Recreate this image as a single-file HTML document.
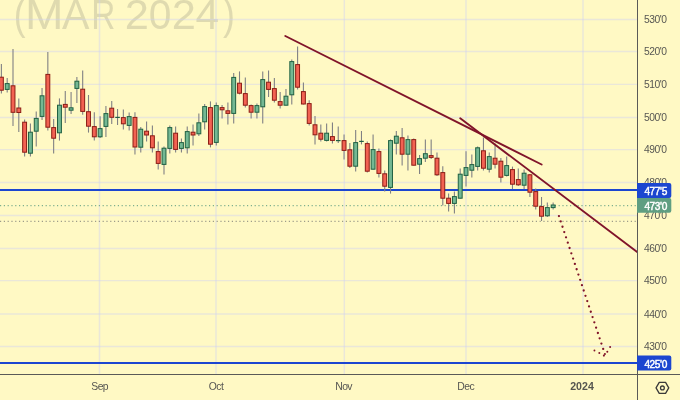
<!DOCTYPE html>
<html><head><meta charset="utf-8"><title>Chart</title>
<style>
html,body{margin:0;padding:0;background:#FFF9C4;}
body{width:680px;height:400px;overflow:hidden;font-family:"Liberation Sans",sans-serif;}
svg{display:block}
text{font-family:"Liberation Sans",sans-serif;}
.pl{font-size:10.3px;fill:#565652;letter-spacing:-0.5px}
.tl{font-size:10.4px;fill:#565652;letter-spacing:-0.55px}
.tlb{font-size:10.6px;fill:#55554f;font-weight:bold;letter-spacing:0px}
.bl{font-size:10.1px;fill:#ffffff;stroke:#ffffff;stroke-width:0.45px;letter-spacing:-0.38px}
</style></head><body>
<svg style="will-change:transform" width="680" height="400" viewBox="0 0 680 400">
<rect x="0" y="0" width="680" height="400" fill="#FFF9C4"/>
<g font-family="Liberation Sans, sans-serif" font-size="42.5" fill="#8a8a78" fill-opacity="0.27">
<text transform="translate(13.87 29.4) scale(0.837 1)">(</text>
<text transform="translate(24.91 29.4) scale(1.087 1)">M</text>
<text transform="translate(62.00 29.4) scale(0.969 1)">A</text>
<text transform="translate(91.33 29.4) scale(0.784 1)">R</text>
<text transform="translate(124.83 29.4) scale(1.023 1)">2</text>
<text transform="translate(148.78 29.4) scale(0.960 1)">0</text>
<text transform="translate(171.83 29.4) scale(1.023 1)">2</text>
<text transform="translate(195.55 29.4) scale(0.997 1)">4</text>
<text transform="translate(223.00 29.4) scale(0.840 1)">)</text>
</g>
<line x1="0" y1="19.5" x2="637.0" y2="19.5" stroke="rgba(205,208,245,0.42)" stroke-width="1.4"/>
<line x1="0" y1="51.5" x2="637.0" y2="51.5" stroke="rgba(205,208,245,0.42)" stroke-width="1.4"/>
<line x1="0" y1="84.4" x2="637.0" y2="84.4" stroke="rgba(205,208,245,0.42)" stroke-width="1.4"/>
<line x1="0" y1="117.5" x2="637.0" y2="117.5" stroke="rgba(205,208,245,0.42)" stroke-width="1.4"/>
<line x1="0" y1="149.6" x2="637.0" y2="149.6" stroke="rgba(205,208,245,0.42)" stroke-width="1.4"/>
<line x1="0" y1="182.5" x2="637.0" y2="182.5" stroke="rgba(205,208,245,0.42)" stroke-width="1.4"/>
<line x1="0" y1="215.5" x2="637.0" y2="215.5" stroke="rgba(205,208,245,0.42)" stroke-width="1.4"/>
<line x1="0" y1="248.5" x2="637.0" y2="248.5" stroke="rgba(205,208,245,0.42)" stroke-width="1.4"/>
<line x1="0" y1="280.6" x2="637.0" y2="280.6" stroke="rgba(205,208,245,0.42)" stroke-width="1.4"/>
<line x1="0" y1="314.0" x2="637.0" y2="314.0" stroke="rgba(205,208,245,0.42)" stroke-width="1.4"/>
<line x1="0" y1="346.5" x2="637.0" y2="346.5" stroke="rgba(205,208,245,0.42)" stroke-width="1.4"/>
<line x1="99.5" y1="0" x2="99.5" y2="374.0" stroke="rgba(205,208,245,0.42)" stroke-width="1.5"/>
<line x1="216" y1="0" x2="216" y2="374.0" stroke="rgba(205,208,245,0.42)" stroke-width="1.5"/>
<line x1="344.3" y1="0" x2="344.3" y2="374.0" stroke="rgba(205,208,245,0.42)" stroke-width="1.5"/>
<line x1="466" y1="0" x2="466" y2="374.0" stroke="rgba(205,208,245,0.42)" stroke-width="1.5"/>
<line x1="583" y1="0" x2="583" y2="374.0" stroke="rgba(205,208,245,0.42)" stroke-width="1.5"/>
<line x1="0" y1="205.7" x2="637.5" y2="205.7" stroke="#5F9E82" stroke-width="1" stroke-dasharray="1.2 2.6"/>
<line x1="0" y1="221.3" x2="637.5" y2="221.3" stroke="#85857c" stroke-width="1" stroke-dasharray="1.2 2.6"/>
<line x1="0" y1="190" x2="637.5" y2="190" stroke="#1C46D0" stroke-width="2"/>
<line x1="0" y1="363" x2="637.5" y2="363" stroke="#1C46D0" stroke-width="2"/>
<line x1="1.38" y1="64.0" x2="1.38" y2="93.6" stroke="#808084" stroke-width="1.1"/>
<rect x="-0.57" y="77.2" width="3.9" height="13.0" fill="#F26252" stroke="#8C1C14" stroke-width="1"/>
<line x1="7.19" y1="78.0" x2="7.19" y2="92.4" stroke="#808084" stroke-width="1.1"/>
<rect x="5.24" y="83.6" width="3.9" height="5.8" fill="#74B893" stroke="#1F6042" stroke-width="1"/>
<line x1="13.00" y1="49.0" x2="13.00" y2="126.0" stroke="#808084" stroke-width="1.1"/>
<rect x="11.05" y="85.8" width="3.9" height="26.5" fill="#F26252" stroke="#8C1C14" stroke-width="1"/>
<line x1="18.80" y1="98.4" x2="18.80" y2="132.0" stroke="#808084" stroke-width="1.1"/>
<rect x="16.85" y="108.0" width="3.9" height="4.5" fill="#F26252" stroke="#8C1C14" stroke-width="1"/>
<line x1="24.61" y1="119.6" x2="24.61" y2="156.4" stroke="#808084" stroke-width="1.1"/>
<rect x="22.66" y="122.2" width="3.9" height="30.0" fill="#F26252" stroke="#8C1C14" stroke-width="1"/>
<line x1="30.42" y1="123.6" x2="30.42" y2="156.4" stroke="#808084" stroke-width="1.1"/>
<rect x="28.47" y="132.2" width="3.9" height="21.0" fill="#74B893" stroke="#1F6042" stroke-width="1"/>
<line x1="36.23" y1="111.4" x2="36.23" y2="146.4" stroke="#808084" stroke-width="1.1"/>
<rect x="34.28" y="118.4" width="3.9" height="12.8" fill="#74B893" stroke="#1F6042" stroke-width="1"/>
<line x1="42.04" y1="88.0" x2="42.04" y2="120.0" stroke="#808084" stroke-width="1.1"/>
<rect x="40.09" y="95.8" width="3.9" height="20.6" fill="#74B893" stroke="#1F6042" stroke-width="1"/>
<line x1="47.84" y1="52.0" x2="47.84" y2="130.4" stroke="#808084" stroke-width="1.1"/>
<rect x="45.89" y="74.4" width="3.9" height="52.8" fill="#F26252" stroke="#8C1C14" stroke-width="1"/>
<line x1="53.65" y1="119.0" x2="53.65" y2="153.6" stroke="#808084" stroke-width="1.1"/>
<rect x="51.70" y="127.6" width="3.9" height="10.6" fill="#F26252" stroke="#8C1C14" stroke-width="1"/>
<line x1="59.46" y1="98.4" x2="59.46" y2="140.6" stroke="#808084" stroke-width="1.1"/>
<rect x="57.51" y="105.2" width="3.9" height="27.6" fill="#74B893" stroke="#1F6042" stroke-width="1"/>
<line x1="65.27" y1="91.0" x2="65.27" y2="123.0" stroke="#808084" stroke-width="1.1"/>
<rect x="63.32" y="104.4" width="3.9" height="2.8" fill="#F26252" stroke="#8C1C14" stroke-width="1"/>
<line x1="71.08" y1="92.0" x2="71.08" y2="114.0" stroke="#808084" stroke-width="1.1"/>
<rect x="69.13" y="107.8" width="3.9" height="2.4" fill="#74B893" stroke="#1F6042" stroke-width="1"/>
<line x1="76.88" y1="77.0" x2="76.88" y2="103.0" stroke="#808084" stroke-width="1.1"/>
<rect x="74.93" y="81.2" width="3.9" height="7.2" fill="#74B893" stroke="#1F6042" stroke-width="1"/>
<line x1="82.69" y1="70.4" x2="82.69" y2="114.8" stroke="#808084" stroke-width="1.1"/>
<rect x="80.74" y="89.2" width="3.9" height="22.2" fill="#F26252" stroke="#8C1C14" stroke-width="1"/>
<line x1="88.50" y1="95.0" x2="88.50" y2="132.6" stroke="#808084" stroke-width="1.1"/>
<rect x="86.55" y="111.7" width="3.9" height="14.5" fill="#F26252" stroke="#8C1C14" stroke-width="1"/>
<line x1="94.31" y1="112.2" x2="94.31" y2="140.6" stroke="#808084" stroke-width="1.1"/>
<rect x="92.36" y="126.6" width="3.9" height="10.2" fill="#F26252" stroke="#8C1C14" stroke-width="1"/>
<line x1="100.12" y1="116.2" x2="100.12" y2="138.0" stroke="#808084" stroke-width="1.1"/>
<rect x="98.17" y="128.6" width="3.9" height="8.2" fill="#74B893" stroke="#1F6042" stroke-width="1"/>
<line x1="105.92" y1="106.0" x2="105.92" y2="137.0" stroke="#808084" stroke-width="1.1"/>
<rect x="103.97" y="113.6" width="3.9" height="12.8" fill="#74B893" stroke="#1F6042" stroke-width="1"/>
<line x1="111.73" y1="101.0" x2="111.73" y2="124.0" stroke="#808084" stroke-width="1.1"/>
<rect x="109.78" y="108.2" width="3.9" height="9.1" fill="#F26252" stroke="#8C1C14" stroke-width="1"/>
<line x1="117.54" y1="109.0" x2="117.54" y2="125.0" stroke="#808084" stroke-width="1.1"/>
<line x1="115.24" y1="117.4" x2="119.84" y2="117.4" stroke="#1F6042" stroke-width="1.2"/>
<line x1="123.35" y1="109.6" x2="123.35" y2="129.6" stroke="#808084" stroke-width="1.1"/>
<rect x="121.40" y="117.6" width="3.9" height="6.2" fill="#F26252" stroke="#8C1C14" stroke-width="1"/>
<line x1="129.16" y1="112.4" x2="129.16" y2="130.4" stroke="#808084" stroke-width="1.1"/>
<rect x="127.21" y="116.6" width="3.9" height="8.8" fill="#74B893" stroke="#1F6042" stroke-width="1"/>
<line x1="134.96" y1="112.2" x2="134.96" y2="154.4" stroke="#808084" stroke-width="1.1"/>
<rect x="133.01" y="117.4" width="3.9" height="29.6" fill="#F26252" stroke="#8C1C14" stroke-width="1"/>
<line x1="140.77" y1="127.0" x2="140.77" y2="152.4" stroke="#808084" stroke-width="1.1"/>
<rect x="138.82" y="129.2" width="3.9" height="18.0" fill="#74B893" stroke="#1F6042" stroke-width="1"/>
<line x1="146.58" y1="121.6" x2="146.58" y2="141.6" stroke="#808084" stroke-width="1.1"/>
<rect x="144.63" y="131.2" width="3.9" height="3.8" fill="#F26252" stroke="#8C1C14" stroke-width="1"/>
<line x1="152.39" y1="125.6" x2="152.39" y2="152.4" stroke="#808084" stroke-width="1.1"/>
<rect x="150.44" y="135.8" width="3.9" height="12.0" fill="#F26252" stroke="#8C1C14" stroke-width="1"/>
<line x1="158.20" y1="141.4" x2="158.20" y2="169.6" stroke="#808084" stroke-width="1.1"/>
<rect x="156.25" y="151.6" width="3.9" height="11.8" fill="#F26252" stroke="#8C1C14" stroke-width="1"/>
<line x1="164.00" y1="146.6" x2="164.00" y2="174.4" stroke="#808084" stroke-width="1.1"/>
<rect x="162.05" y="148.2" width="3.9" height="16.2" fill="#74B893" stroke="#1F6042" stroke-width="1"/>
<line x1="169.81" y1="125.6" x2="169.81" y2="153.6" stroke="#808084" stroke-width="1.1"/>
<rect x="167.86" y="127.6" width="3.9" height="20.8" fill="#74B893" stroke="#1F6042" stroke-width="1"/>
<line x1="175.62" y1="126.4" x2="175.62" y2="152.4" stroke="#808084" stroke-width="1.1"/>
<rect x="173.67" y="133.2" width="3.9" height="16.2" fill="#F26252" stroke="#8C1C14" stroke-width="1"/>
<line x1="181.43" y1="138.4" x2="181.43" y2="152.4" stroke="#808084" stroke-width="1.1"/>
<rect x="179.48" y="142.6" width="3.9" height="5.8" fill="#74B893" stroke="#1F6042" stroke-width="1"/>
<line x1="187.24" y1="126.4" x2="187.24" y2="153.6" stroke="#808084" stroke-width="1.1"/>
<rect x="185.29" y="131.6" width="3.9" height="16.2" fill="#74B893" stroke="#1F6042" stroke-width="1"/>
<line x1="193.04" y1="124.4" x2="193.04" y2="145.4" stroke="#808084" stroke-width="1.1"/>
<rect x="191.09" y="132.2" width="3.9" height="2.8" fill="#F26252" stroke="#8C1C14" stroke-width="1"/>
<line x1="198.85" y1="113.4" x2="198.85" y2="136.0" stroke="#808084" stroke-width="1.1"/>
<rect x="196.90" y="122.8" width="3.9" height="11.0" fill="#74B893" stroke="#1F6042" stroke-width="1"/>
<line x1="204.66" y1="104.0" x2="204.66" y2="129.4" stroke="#808084" stroke-width="1.1"/>
<rect x="202.71" y="106.6" width="3.9" height="15.2" fill="#74B893" stroke="#1F6042" stroke-width="1"/>
<line x1="210.47" y1="101.4" x2="210.47" y2="147.4" stroke="#808084" stroke-width="1.1"/>
<rect x="208.52" y="107.6" width="3.9" height="36.6" fill="#F26252" stroke="#8C1C14" stroke-width="1"/>
<line x1="216.28" y1="102.4" x2="216.28" y2="145.6" stroke="#808084" stroke-width="1.1"/>
<rect x="214.33" y="105.6" width="3.9" height="36.8" fill="#74B893" stroke="#1F6042" stroke-width="1"/>
<line x1="222.08" y1="105.0" x2="222.08" y2="118.6" stroke="#808084" stroke-width="1.1"/>
<rect x="220.13" y="107.6" width="3.9" height="2.2" fill="#F26252" stroke="#8C1C14" stroke-width="1"/>
<line x1="227.89" y1="102.4" x2="227.89" y2="124.6" stroke="#808084" stroke-width="1.1"/>
<rect x="225.94" y="110.8" width="3.9" height="2.6" fill="#F26252" stroke="#8C1C14" stroke-width="1"/>
<line x1="233.70" y1="73.0" x2="233.70" y2="123.6" stroke="#808084" stroke-width="1.1"/>
<rect x="231.75" y="77.4" width="3.9" height="36.0" fill="#74B893" stroke="#1F6042" stroke-width="1"/>
<line x1="239.51" y1="71.4" x2="239.51" y2="94.4" stroke="#808084" stroke-width="1.1"/>
<rect x="237.56" y="83.2" width="3.9" height="10.0" fill="#F26252" stroke="#8C1C14" stroke-width="1"/>
<line x1="245.32" y1="77.4" x2="245.32" y2="107.6" stroke="#808084" stroke-width="1.1"/>
<rect x="243.37" y="93.6" width="3.9" height="11.6" fill="#F26252" stroke="#8C1C14" stroke-width="1"/>
<line x1="251.12" y1="104.4" x2="251.12" y2="118.4" stroke="#808084" stroke-width="1.1"/>
<rect x="249.17" y="105.6" width="3.9" height="6.6" fill="#F26252" stroke="#8C1C14" stroke-width="1"/>
<line x1="256.93" y1="103.6" x2="256.93" y2="118.4" stroke="#808084" stroke-width="1.1"/>
<rect x="254.98" y="105.6" width="3.9" height="6.6" fill="#74B893" stroke="#1F6042" stroke-width="1"/>
<line x1="262.74" y1="71.4" x2="262.74" y2="123.6" stroke="#808084" stroke-width="1.1"/>
<rect x="260.79" y="79.6" width="3.9" height="27.2" fill="#74B893" stroke="#1F6042" stroke-width="1"/>
<line x1="268.55" y1="70.4" x2="268.55" y2="97.0" stroke="#808084" stroke-width="1.1"/>
<rect x="266.60" y="82.2" width="3.9" height="7.2" fill="#F26252" stroke="#8C1C14" stroke-width="1"/>
<line x1="274.36" y1="78.0" x2="274.36" y2="102.6" stroke="#808084" stroke-width="1.1"/>
<rect x="272.41" y="88.6" width="3.9" height="11.6" fill="#F26252" stroke="#8C1C14" stroke-width="1"/>
<line x1="280.16" y1="92.0" x2="280.16" y2="108.4" stroke="#808084" stroke-width="1.1"/>
<rect x="278.21" y="101.6" width="3.9" height="3.6" fill="#F26252" stroke="#8C1C14" stroke-width="1"/>
<line x1="285.97" y1="89.0" x2="285.97" y2="105.4" stroke="#808084" stroke-width="1.1"/>
<rect x="284.02" y="96.2" width="3.9" height="9.0" fill="#74B893" stroke="#1F6042" stroke-width="1"/>
<line x1="291.78" y1="59.4" x2="291.78" y2="104.5" stroke="#808084" stroke-width="1.1"/>
<rect x="289.83" y="61.6" width="3.9" height="33.2" fill="#74B893" stroke="#1F6042" stroke-width="1"/>
<line x1="297.59" y1="46.4" x2="297.59" y2="89.4" stroke="#808084" stroke-width="1.1"/>
<rect x="295.64" y="64.6" width="3.9" height="22.6" fill="#F26252" stroke="#8C1C14" stroke-width="1"/>
<line x1="303.40" y1="82.6" x2="303.40" y2="104.6" stroke="#808084" stroke-width="1.1"/>
<rect x="301.45" y="91.6" width="3.9" height="12.4" fill="#F26252" stroke="#8C1C14" stroke-width="1"/>
<line x1="309.20" y1="100.2" x2="309.20" y2="125.6" stroke="#808084" stroke-width="1.1"/>
<rect x="307.25" y="103.6" width="3.9" height="19.8" fill="#F26252" stroke="#8C1C14" stroke-width="1"/>
<line x1="315.01" y1="116.0" x2="315.01" y2="144.4" stroke="#808084" stroke-width="1.1"/>
<rect x="313.06" y="124.8" width="3.9" height="10.0" fill="#F26252" stroke="#8C1C14" stroke-width="1"/>
<line x1="320.82" y1="124.4" x2="320.82" y2="141.6" stroke="#808084" stroke-width="1.1"/>
<rect x="318.87" y="133.2" width="3.9" height="6.0" fill="#F26252" stroke="#8C1C14" stroke-width="1"/>
<line x1="326.63" y1="123.6" x2="326.63" y2="141.6" stroke="#808084" stroke-width="1.1"/>
<rect x="324.68" y="133.2" width="3.9" height="7.2" fill="#74B893" stroke="#1F6042" stroke-width="1"/>
<line x1="332.44" y1="122.6" x2="332.44" y2="143.6" stroke="#808084" stroke-width="1.1"/>
<rect x="330.49" y="136.6" width="3.9" height="3.8" fill="#F26252" stroke="#8C1C14" stroke-width="1"/>
<line x1="338.24" y1="126.4" x2="338.24" y2="143.0" stroke="#808084" stroke-width="1.1"/>
<line x1="335.94" y1="140.6" x2="340.54" y2="140.6" stroke="#1F6042" stroke-width="1.2"/>
<line x1="344.05" y1="134.4" x2="344.05" y2="159.4" stroke="#808084" stroke-width="1.1"/>
<rect x="342.10" y="140.6" width="3.9" height="9.8" fill="#F26252" stroke="#8C1C14" stroke-width="1"/>
<line x1="349.86" y1="143.0" x2="349.86" y2="168.0" stroke="#808084" stroke-width="1.1"/>
<rect x="347.91" y="149.8" width="3.9" height="16.4" fill="#F26252" stroke="#8C1C14" stroke-width="1"/>
<line x1="355.67" y1="130.0" x2="355.67" y2="171.4" stroke="#808084" stroke-width="1.1"/>
<rect x="353.72" y="142.6" width="3.9" height="23.6" fill="#74B893" stroke="#1F6042" stroke-width="1"/>
<line x1="361.48" y1="131.0" x2="361.48" y2="144.4" stroke="#808084" stroke-width="1.1"/>
<line x1="359.18" y1="141.4" x2="363.78" y2="141.4" stroke="#1F6042" stroke-width="1.2"/>
<line x1="367.28" y1="141.4" x2="367.28" y2="172.4" stroke="#808084" stroke-width="1.1"/>
<rect x="365.33" y="143.6" width="3.9" height="27.6" fill="#F26252" stroke="#8C1C14" stroke-width="1"/>
<line x1="373.09" y1="134.6" x2="373.09" y2="169.4" stroke="#808084" stroke-width="1.1"/>
<rect x="371.14" y="149.6" width="3.9" height="19.6" fill="#74B893" stroke="#1F6042" stroke-width="1"/>
<line x1="378.90" y1="148.4" x2="378.90" y2="177.6" stroke="#808084" stroke-width="1.1"/>
<rect x="376.95" y="151.6" width="3.9" height="21.8" fill="#F26252" stroke="#8C1C14" stroke-width="1"/>
<line x1="384.71" y1="170.4" x2="384.71" y2="191.6" stroke="#808084" stroke-width="1.1"/>
<rect x="382.76" y="173.8" width="3.9" height="12.4" fill="#F26252" stroke="#8C1C14" stroke-width="1"/>
<line x1="390.52" y1="139.4" x2="390.52" y2="193.6" stroke="#808084" stroke-width="1.1"/>
<rect x="388.57" y="140.6" width="3.9" height="46.8" fill="#74B893" stroke="#1F6042" stroke-width="1"/>
<line x1="396.32" y1="131.0" x2="396.32" y2="154.4" stroke="#808084" stroke-width="1.1"/>
<rect x="394.37" y="136.2" width="3.9" height="7.0" fill="#74B893" stroke="#1F6042" stroke-width="1"/>
<line x1="402.13" y1="128.0" x2="402.13" y2="165.6" stroke="#808084" stroke-width="1.1"/>
<rect x="400.18" y="137.8" width="3.9" height="16.4" fill="#F26252" stroke="#8C1C14" stroke-width="1"/>
<line x1="407.94" y1="135.6" x2="407.94" y2="170.4" stroke="#808084" stroke-width="1.1"/>
<rect x="405.99" y="139.6" width="3.9" height="14.6" fill="#74B893" stroke="#1F6042" stroke-width="1"/>
<line x1="413.75" y1="138.6" x2="413.75" y2="165.4" stroke="#808084" stroke-width="1.1"/>
<rect x="411.80" y="139.6" width="3.9" height="25.6" fill="#F26252" stroke="#8C1C14" stroke-width="1"/>
<line x1="419.56" y1="155.0" x2="419.56" y2="174.0" stroke="#808084" stroke-width="1.1"/>
<rect x="417.61" y="158.6" width="3.9" height="5.6" fill="#74B893" stroke="#1F6042" stroke-width="1"/>
<line x1="425.36" y1="139.6" x2="425.36" y2="162.0" stroke="#808084" stroke-width="1.1"/>
<rect x="423.41" y="153.7" width="3.9" height="4.5" fill="#74B893" stroke="#1F6042" stroke-width="1"/>
<line x1="431.17" y1="139.6" x2="431.17" y2="159.0" stroke="#808084" stroke-width="1.1"/>
<rect x="429.22" y="155.6" width="3.9" height="1.8" fill="#F26252" stroke="#8C1C14" stroke-width="1"/>
<line x1="436.98" y1="152.4" x2="436.98" y2="176.0" stroke="#808084" stroke-width="1.1"/>
<rect x="435.03" y="158.2" width="3.9" height="16.6" fill="#F26252" stroke="#8C1C14" stroke-width="1"/>
<line x1="442.79" y1="166.3" x2="442.79" y2="205.6" stroke="#808084" stroke-width="1.1"/>
<rect x="440.84" y="172.6" width="3.9" height="25.6" fill="#F26252" stroke="#8C1C14" stroke-width="1"/>
<line x1="448.60" y1="193.6" x2="448.60" y2="211.6" stroke="#808084" stroke-width="1.1"/>
<rect x="446.65" y="198.2" width="3.9" height="5.2" fill="#F26252" stroke="#8C1C14" stroke-width="1"/>
<line x1="454.40" y1="191.6" x2="454.40" y2="213.6" stroke="#808084" stroke-width="1.1"/>
<rect x="452.45" y="196.6" width="3.9" height="6.8" fill="#74B893" stroke="#1F6042" stroke-width="1"/>
<line x1="460.21" y1="168.4" x2="460.21" y2="198.4" stroke="#808084" stroke-width="1.1"/>
<rect x="458.26" y="174.2" width="3.9" height="24.0" fill="#74B893" stroke="#1F6042" stroke-width="1"/>
<line x1="466.02" y1="151.2" x2="466.02" y2="186.4" stroke="#808084" stroke-width="1.1"/>
<rect x="464.07" y="167.6" width="3.9" height="7.8" fill="#74B893" stroke="#1F6042" stroke-width="1"/>
<line x1="471.83" y1="154.4" x2="471.83" y2="177.6" stroke="#808084" stroke-width="1.1"/>
<rect x="469.88" y="164.6" width="3.9" height="5.6" fill="#74B893" stroke="#1F6042" stroke-width="1"/>
<line x1="477.64" y1="146.6" x2="477.64" y2="170.4" stroke="#808084" stroke-width="1.1"/>
<rect x="475.69" y="147.8" width="3.9" height="18.6" fill="#74B893" stroke="#1F6042" stroke-width="1"/>
<line x1="483.44" y1="137.6" x2="483.44" y2="170.4" stroke="#808084" stroke-width="1.1"/>
<rect x="481.49" y="150.8" width="3.9" height="17.4" fill="#F26252" stroke="#8C1C14" stroke-width="1"/>
<line x1="489.25" y1="152.4" x2="489.25" y2="172.4" stroke="#808084" stroke-width="1.1"/>
<rect x="487.30" y="156.6" width="3.9" height="12.6" fill="#74B893" stroke="#1F6042" stroke-width="1"/>
<line x1="495.06" y1="143.6" x2="495.06" y2="168.4" stroke="#808084" stroke-width="1.1"/>
<rect x="493.11" y="158.2" width="3.9" height="6.0" fill="#F26252" stroke="#8C1C14" stroke-width="1"/>
<line x1="500.87" y1="158.0" x2="500.87" y2="182.4" stroke="#808084" stroke-width="1.1"/>
<rect x="498.92" y="161.2" width="3.9" height="16.0" fill="#F26252" stroke="#8C1C14" stroke-width="1"/>
<line x1="506.68" y1="156.4" x2="506.68" y2="176.6" stroke="#808084" stroke-width="1.1"/>
<rect x="504.73" y="165.6" width="3.9" height="9.8" fill="#74B893" stroke="#1F6042" stroke-width="1"/>
<line x1="512.48" y1="166.6" x2="512.48" y2="189.0" stroke="#808084" stroke-width="1.1"/>
<rect x="510.53" y="169.6" width="3.9" height="14.6" fill="#F26252" stroke="#8C1C14" stroke-width="1"/>
<line x1="518.29" y1="168.4" x2="518.29" y2="186.0" stroke="#808084" stroke-width="1.1"/>
<rect x="516.34" y="179.6" width="3.9" height="5.2" fill="#F26252" stroke="#8C1C14" stroke-width="1"/>
<line x1="524.10" y1="169.6" x2="524.10" y2="189.0" stroke="#808084" stroke-width="1.1"/>
<rect x="522.15" y="173.2" width="3.9" height="12.0" fill="#74B893" stroke="#1F6042" stroke-width="1"/>
<line x1="529.91" y1="174.0" x2="529.91" y2="197.0" stroke="#808084" stroke-width="1.1"/>
<rect x="527.96" y="174.8" width="3.9" height="17.4" fill="#F26252" stroke="#8C1C14" stroke-width="1"/>
<line x1="535.72" y1="188.4" x2="535.72" y2="209.6" stroke="#808084" stroke-width="1.1"/>
<rect x="533.77" y="191.6" width="3.9" height="14.6" fill="#F26252" stroke="#8C1C14" stroke-width="1"/>
<line x1="541.52" y1="197.0" x2="541.52" y2="221.0" stroke="#808084" stroke-width="1.1"/>
<rect x="539.57" y="206.6" width="3.9" height="9.6" fill="#F26252" stroke="#8C1C14" stroke-width="1"/>
<line x1="547.33" y1="202.4" x2="547.33" y2="217.0" stroke="#808084" stroke-width="1.1"/>
<rect x="545.38" y="207.6" width="3.9" height="8.2" fill="#74B893" stroke="#1F6042" stroke-width="1"/>
<line x1="553.14" y1="202.4" x2="553.14" y2="209.6" stroke="#808084" stroke-width="1.1"/>
<rect x="551.19" y="205.0" width="3.9" height="2.6" fill="#74B893" stroke="#1F6042" stroke-width="1"/>
<line x1="285.3" y1="36.0" x2="541.6" y2="164.5" stroke="#80142A" stroke-width="1.9" stroke-linecap="round"/>
<line x1="460.2" y1="118.3" x2="637.5" y2="252.3" stroke="#80142A" stroke-width="1.9" stroke-linecap="round"/>
<line x1="558.95" y1="216.1" x2="603.2" y2="349.0" stroke="#80142A" stroke-width="2.3" stroke-linecap="round" stroke-dasharray="0 5.6"/>
<circle cx="594.45" cy="350.5" r="0.95" fill="#80142A"/>
<circle cx="599.3" cy="353.0" r="1.0" fill="#80142A"/>
<circle cx="603.9" cy="355.6" r="1.05" fill="#80142A"/>
<circle cx="604.9" cy="354.0" r="1.05" fill="#80142A"/>
<circle cx="607.3" cy="351.75" r="1.0" fill="#80142A"/>
<circle cx="610.15" cy="346.9" r="1.0" fill="#80142A"/>
<rect x="637.5" y="0" width="42.5" height="400" fill="#FFF9C4"/>
<rect x="0" y="374.5" width="680" height="25.5" fill="#FFF9C4"/>
<line x1="637.5" y1="0" x2="637.5" y2="400" stroke="#5a5a58" stroke-width="1"/>
<line x1="0" y1="374.5" x2="680" y2="374.5" stroke="#5a5a58" stroke-width="1"/>
<text x="644" y="23.1" class="pl">530'0</text>
<text x="644" y="55.1" class="pl">520'0</text>
<text x="644" y="88.0" class="pl">510'0</text>
<text x="644" y="121.1" class="pl">500'0</text>
<text x="644" y="153.2" class="pl">490'0</text>
<text x="644" y="186.1" class="pl">480'0</text>
<text x="644" y="219.1" class="pl">470'0</text>
<text x="644" y="252.1" class="pl">460'0</text>
<text x="644" y="284.2" class="pl">450'0</text>
<text x="644" y="317.6" class="pl">440'0</text>
<text x="644" y="350.1" class="pl">430'0</text>
<text x="99.7" y="390" class="tl" text-anchor="middle">Sep</text>
<text x="216" y="390" class="tl" text-anchor="middle">Oct</text>
<text x="343.6" y="390" class="tl" text-anchor="middle">Nov</text>
<text x="465.7" y="390" class="tl" text-anchor="middle">Dec</text>
<text x="582" y="389.8" class="tlb" text-anchor="middle">2024</text>
<path d="M637.0 183 H669.3 a2 2 0 0 1 2 2 V195.9 a2 2 0 0 1 -2 2 H637.0 Z" fill="#1C46D0"/>
<text x="644.4" y="195.0" class="bl">477'5</text>
<path d="M637.0 197.9 H669.3 a2 2 0 0 1 2 2 V210.8 a2 2 0 0 1 -2 2 H637.0 Z" fill="#5F9E82"/>
<text x="644.4" y="209.9" class="bl">473'0</text>
<path d="M637.0 355.6 H669.3 a2 2 0 0 1 2 2 V368.4 a2 2 0 0 1 -2 2 H637.0 Z" fill="#1C46D0"/>
<text x="644.4" y="367.6" class="bl">425'0</text>
<polygon points="668.75,387.90 665.57,393.40 659.23,393.40 656.05,387.90 659.23,382.40 665.57,382.40" fill="none" stroke="#3a3a3a" stroke-width="1.3" stroke-linejoin="round"/>
<circle cx="662.4" cy="387.9" r="1.9" fill="none" stroke="#3a3a3a" stroke-width="1.3"/>
</svg>
</body></html>
